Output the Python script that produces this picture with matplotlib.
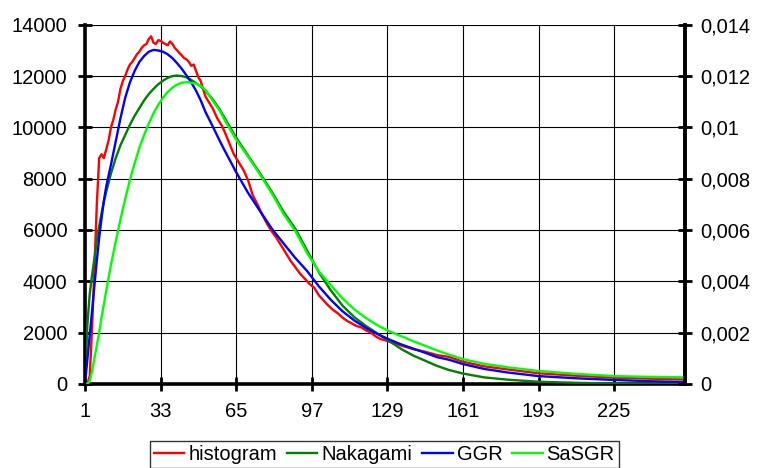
import matplotlib
matplotlib.use("Agg")
import matplotlib.pyplot as plt

plt.rcParams["font.family"] = ["Liberation Sans", "DejaVu Sans"]

# histogram (measured counts, left axis)
hist_x = [1, 2, 3, 4, 5, 6, 7, 8, 9, 10, 11, 12, 13, 14, 15, 16, 17, 18, 19, 20,
          21, 22, 23, 24, 25, 26, 27, 28, 29, 30, 31, 32, 33, 34, 35, 36, 37, 38, 39, 40,
          41, 42, 43, 44, 45, 46, 47, 48, 49, 50, 51, 52, 53, 54, 55, 56, 57, 58, 59, 60,
          62, 64, 66, 68, 70, 72, 74, 76, 78, 80, 82, 84, 86, 88, 90, 92, 94, 96, 98, 100,
          102, 104, 106, 108, 110, 112, 114, 116, 118, 120, 122, 124, 126, 128, 132, 136,
          140, 145, 150, 155, 161, 170, 180, 193, 210, 225, 240, 255]
hist_y = [0, 0, 300, 2200, 4500, 7000, 8800, 8950, 8800, 9150, 9500, 10000, 10300, 10700,
          11000, 11500, 11800, 12000, 12250, 12450, 12550, 12700, 12850, 12950, 13100, 13200,
          13250, 13450, 13550, 13300, 13250, 13400, 13380, 13300, 13250, 13200, 13350, 13250,
          13100, 13000, 12900, 12800, 12700, 12650, 12550, 12400, 12450, 12200, 11950, 11800,
          11500, 11200, 11050, 10900, 10750, 10550, 10350, 10200, 10050, 9850,
          9400, 8950, 8650, 8350, 7950, 7350, 7000, 6600, 6250, 5950, 5700, 5400, 5100, 4800,
          4550, 4300, 4100, 3900, 3750, 3450, 3250, 3050, 2880, 2750, 2580, 2450, 2350, 2250,
          2200, 2080, 2000, 1850, 1750, 1700, 1580, 1460, 1350, 1250, 1120, 1050, 860, 680,
          560, 410, 310, 240, 200, 170]

# fitted densities, scaled to the same counts
fit_x = [1, 2, 3, 4, 5, 6, 7, 8, 9, 10, 12, 14, 16, 18, 20, 22, 24, 26, 28, 30, 32, 34,
         36, 38, 40, 42, 44, 46, 48, 50, 52, 55, 58, 60, 65, 70, 75, 80, 85, 90, 95, 100,
         105, 110, 115, 120, 125, 130, 135, 140, 145, 150, 155, 161, 170, 180, 193, 210,
         225, 240, 255]
nakagami_y = [0, 2300, 3500, 4250, 4900, 5600, 6150, 6650, 7100, 7500, 8200, 8800, 9300,
              9700, 10100, 10450, 10750, 11050, 11300, 11500, 11680, 11820, 11930, 12000,
              12020, 12000, 11950, 11850, 11720, 11600, 11420, 11100, 10700, 10380, 9600,
              8900, 8220, 7500, 6720, 6050, 5200, 4350, 3650, 3050, 2600, 2250, 1950, 1650,
              1350, 1100, 900, 700, 540, 400, 250, 160, 80, 35, 15, 8, 5]
ggr_y = [0, 950, 1900, 2850, 3850, 4800, 5700, 6450, 7150, 7700, 8550, 9450, 10350, 11150,
         11750, 12200, 12550, 12780, 12950, 13020, 13000, 12950, 12850, 12700, 12500, 12280,
         12020, 11750, 11430, 11050, 10600, 10050, 9480, 9120, 8250, 7450, 6750, 6060, 5480,
         4910, 4400, 3800, 3280, 2830, 2470, 2180, 1930, 1720, 1530, 1370, 1210, 1040, 940,
         770, 580, 440, 300, 210, 150, 100, 70]
sasgr_y = [0, 0, 100, 500, 1000, 1500, 2000, 2600, 3100, 3650, 4650, 5550, 6400, 7200, 7950,
           8600, 9200, 9700, 10150, 10550, 10880, 11150, 11380, 11550, 11670, 11740, 11760,
           11740, 11700, 11620, 11450, 11050, 10650, 10300, 9520, 8860, 8170, 7440, 6630,
           5960, 5100, 4380, 3850, 3330, 2900, 2560, 2270, 2040, 1850, 1660, 1480, 1300,
           1140, 960, 780, 640, 500, 380, 300, 270, 250]

x_ticks = [1, 33, 65, 97, 129, 161, 193, 225]
left_ticks = [0, 2000, 4000, 6000, 8000, 10000, 12000, 14000]
right_ticks = [0, 0.002, 0.004, 0.006, 0.008, 0.01, 0.012, 0.014]
right_labels = ["0", "0,002", "0,004", "0,006", "0,008", "0,01", "0,012", "0,014"]

fig = plt.figure(figsize=(7.57, 4.68), dpi=100)
ax = fig.add_axes([85 / 757, 84.2 / 468, 600 / 757, 359 / 468])

ax.plot(hist_x, hist_y, color="#ff0000", lw=1.7, label="histogram", zorder=3)
ax.plot(fit_x, nakagami_y, color="#007f00", lw=1.7, label="Nakagami", zorder=3)
ax.plot(fit_x, ggr_y, color="#0000ff", lw=1.7, label="GGR", zorder=4)
ax.plot(fit_x, sasgr_y, color="#00ff00", lw=1.7, label="SaSGR", zorder=5)

ax.set_xlim(1, 255)
ax.set_ylim(0, 14000)
ax.set_xticks(x_ticks)
ax.set_yticks(left_ticks)
ax.grid(True, color="black", lw=0.8)
ax.set_axisbelow(True)

for side in ["left", "right", "bottom"]:
    ax.spines[side].set_linewidth(2.6)
ax.spines["top"].set_visible(False)

ax.tick_params(axis="both", direction="inout", length=10.5, width=2, labelsize=14.5)
ax.tick_params(axis="y", pad=7.6)
ax.tick_params(axis="x", pad=8)

ax2 = ax.twinx()
ax2.set_ylim(0, 0.014)
ax2.set_yticks(right_ticks)
ax2.set_yticklabels(right_labels)
ax2.spines["right"].set_linewidth(2.6)
ax2.spines["top"].set_visible(False)
ax2.tick_params(axis="y", direction="inout", length=10.5, width=2, labelsize=14.5, pad=6)

leg = ax.legend(loc="upper center", bbox_to_anchor=(384.5 / 757, 1 - 441 / 468),
                bbox_transform=fig.transFigure, ncol=4, fontsize=14.5, frameon=True,
                fancybox=False, edgecolor="black", handlelength=1.5, handletextpad=0.2,
                columnspacing=0.5, borderpad=0.2, borderaxespad=0)
leg.get_frame().set_linewidth(1)

fig.savefig("out.png", dpi=100)
